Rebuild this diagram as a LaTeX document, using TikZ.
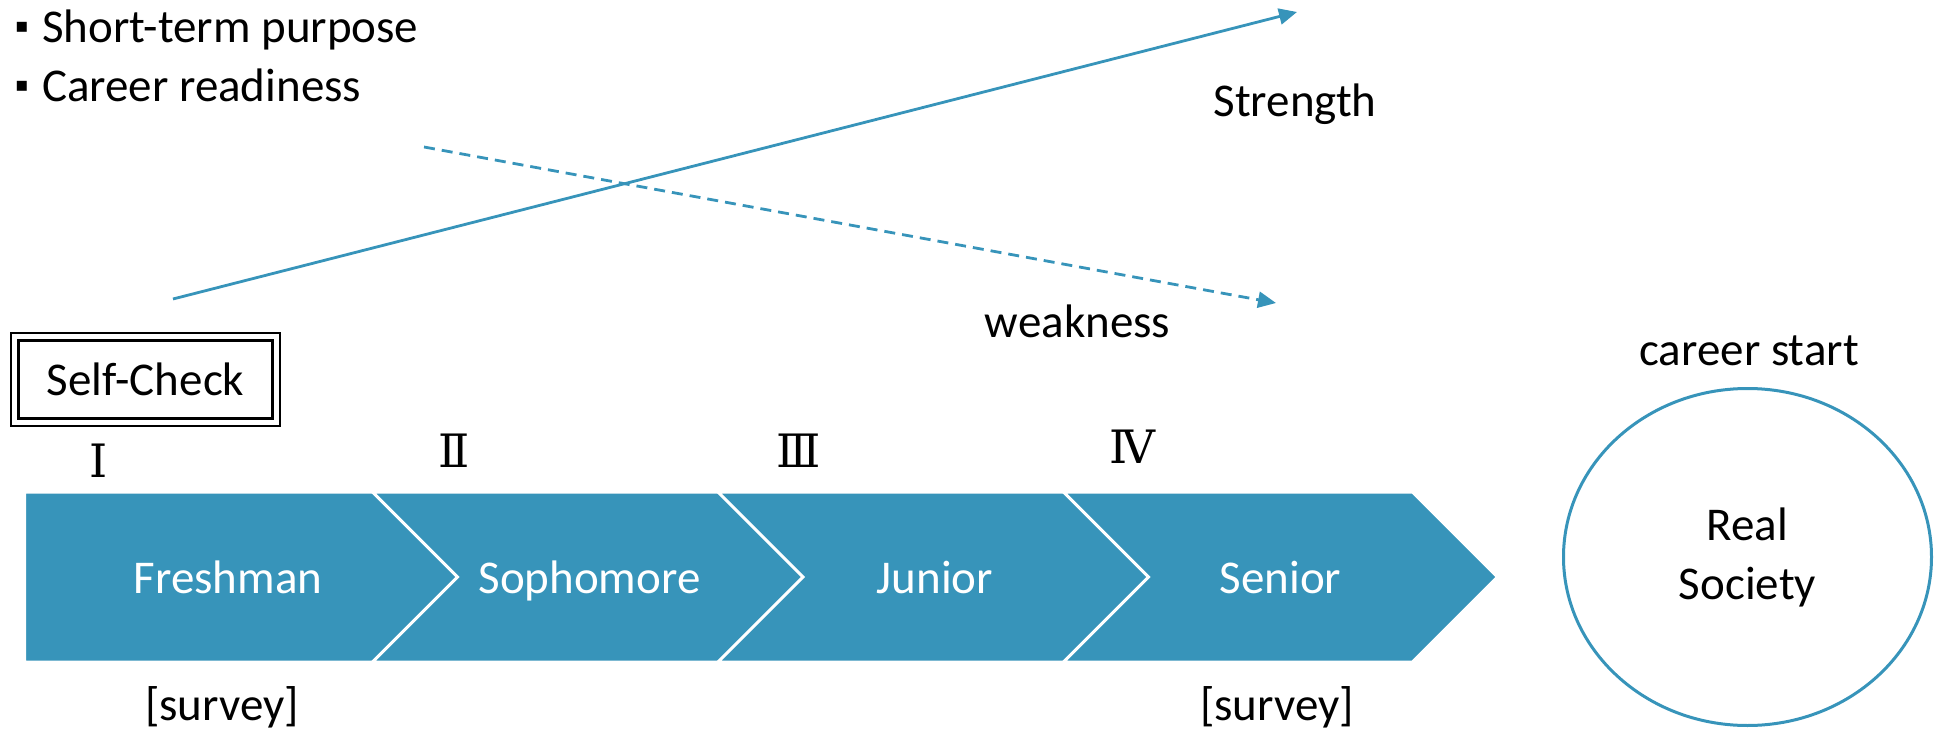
\documentclass[tikz,border=0pt]{standalone}
\usepackage{fontspec}
\setmainfont{Carlito}
\newfontfamily\numfont{DejaVu Serif}
\newfontfamily\markfont{DejaVu Sans}
\usetikzlibrary{positioning, shapes.geometric, shapes.symbols, arrows.meta}
\definecolor{stageblue}{HTML}{3794BA}
\tikzset{
  x=0.5pt, y=-0.5pt, % one unit is one pixel of the layout, y grows downwards
  every node/.style={font=\fontsize{23.5}{29.5}\selectfont},
  node distance=172.75pt, % centre to centre of two neighbouring stages
  stage/.style={signal, signal to=east, signal from=west, fill=stageblue, draw=white, line width=1.5pt,
    text=white, minimum width=217pt, minimum height=85pt, inner sep=0pt, text height=16pt, text depth=0pt},
  year/.style={font=\numfont\fontsize{23}{23}\selectfont, anchor=base},
  note/.style={anchor=base},
  dot/.style={font=\markfont\fontsize{10}{10}\selectfont, inner sep=0pt},
  trend/.style={stageblue, line width=1.4pt, -{Triangle[length=9pt,width=8pt]}}
}

\begin{document}
\begin{tikzpicture}
  \useasboundingbox (0,0) rectangle (1934,733);

  % goals
  \node[dot] (dot1) at (22,27) {▪};
  \node[note, anchor=base west] (purpose) at (35,43) {Short-term purpose};
  \node[dot] (dot2) at (22,86) {▪};
  \node[note, anchor=base west] (readiness) at (35,102) {Career readiness};

  % the four years
  \node[stage, signal from=nowhere, minimum width=239.5pt] (freshman) at (221.5,577) {\hspace*{6.5pt}Freshman};
  \node[stage, right of=freshman, node distance=184pt] (sophomore) {Sophomore};
  \node[stage, right of=sophomore] (junior) {Junior};
  \node[stage, right of=junior] (senior) {Senior};

  \node[year] (y1) at (99,477) {Ⅰ};
  \node[year] (y2) at (454,467) {Ⅱ};
  \node[year] (y3) at (799,467) {Ⅲ};
  \node[year] (y4) at (1132,463) {Ⅳ};

  \node[draw, double, line width=1.2pt, double distance=2.5pt, minimum width=130.6pt, minimum height=42.6pt,
    inner sep=0pt, text height=16pt, text depth=0pt] (selfcheck) at (145.5,379.5) {Self-Check};

  \node[note] (survey1) at (222,720) {[survey]};
  \node[note] (survey2) at (1277,720) {[survey]};

  \node[ellipse, draw=stageblue, line width=1.5pt, minimum width=184pt, minimum height=168.5pt,
    inner sep=0pt, align=center] (society) at (1747.5,557) {Real\\Society};
  \node[note] (start) at (1749,365) {career start};

  % strength goes up, weakness goes down
  \coordinate (rise start) at (173,299);
  \coordinate (rise end) at (1297,12);
  \coordinate (fall start) at (424,147);
  \coordinate (fall end) at (1276,303);
  \draw[trend] (rise start) -- (rise end);
  \draw[trend, dash pattern=on 5.5pt off 3.5pt] (fall start) -- (fall end);
  \node[note] (strength) at (1295,117) {Strength};
  \node[note] (weakness) at (1077.5,337) {weakness};
\end{tikzpicture}
\end{document}
